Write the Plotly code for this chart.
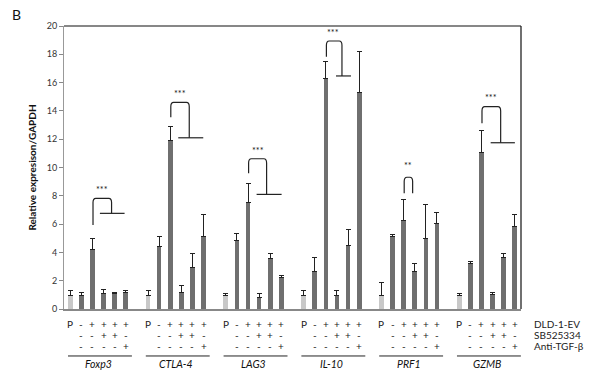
import plotly.graph_objects as go

genes = ["Foxp3", "CTLA-4", "LAG3", "IL-10", "PRF1", "GZMB"]
values = {
    "Foxp3":  [0.95, 0.95, 4.2, 1.1, 1.1, 1.2],
    "CTLA-4": [0.95, 4.4, 11.9, 1.2, 2.9, 5.1],
    "LAG3":   [0.95, 4.85, 7.5, 0.8, 3.6, 2.2],
    "IL-10":  [0.95, 2.65, 16.3, 0.97, 4.5, 15.3],
    "PRF1":   [0.95, 5.15, 6.25, 2.65, 5.0, 6.05],
    "GZMB":   [0.95, 3.2, 11.05, 1.05, 3.65, 5.8],
}
errors = {
    "Foxp3":  [0.39, 0.2, 0.8, 0.29, 0.05, 0.14],
    "CTLA-4": [0.34, 0.7, 1.0, 0.45, 1.0, 1.55],
    "LAG3":   [0.13, 0.5, 1.35, 0.28, 0.3, 0.2],
    "IL-10":  [0.37, 1.0, 1.2, 0.35, 1.15, 2.9],
    "PRF1":   [0.95, 0.13, 1.5, 0.6, 2.4, 0.75],
    "GZMB":   [0.13, 0.15, 1.6, 0.15, 0.25, 0.85],
}
row_dld = ["P", "-", "+", "+", "+", "+"]
row_sb = ["", "-", "-", "+", "+", "-"]
row_anti = ["", "-", "-", "-", "-", "+"]
row_labels = ["DLD-1-EV", "SB525334", "Anti-TGF-β"]
y_ticks = list(range(0, 21, 2))

# significance brackets: (left y bottom, top y, right x offset, right y bottom, hline x0, hline x1, star x, star y, label)
brackets = {
    "Foxp3":  (5.94, 7.82, 3.72, 6.76, 2.67, 4.89, 2.86, 8.45, "***"),
    "CTLA-4": (13.55, 14.6, 3.71, 12.1, 2.72, 4.97, 2.9, 15.2, "***"),
    "LAG3":   (9.59, 10.62, 3.67, 8.1, 2.77, 5.02, 2.9, 11.2, "***"),
    "IL-10":  (17.83, 18.94, 3.45, 16.47, 2.91, 4.26, 2.68, 19.55, "***"),
    "PRF1":   (8.18, 9.31, 2.81, 8.18, None, None, 2.4, 10.15, "**"),
    "GZMB":   (13.12, 14.3, 3.73, 11.75, 2.83, 5.01, 2.9, 14.98, "***"),
}

GROUP = 7
xs, ys, es, cols = [], [], [], []
for g, gene in enumerate(genes):
    for i in range(6):
        xs.append(g * GROUP + i)
        ys.append(values[gene][i])
        es.append(errors[gene][i])
        cols.append("#c8c8c8" if i == 0 else "#6f6f6f")

fig = go.Figure()
fig.add_trace(go.Bar(
    x=xs, y=ys, width=0.42, marker=dict(color=cols, line=dict(width=0)),
    error_y=dict(type="data", symmetric=False, array=es, arrayminus=[0] * len(es),
                 color="#222222", thickness=1, width=2.5),
    showlegend=False, hoverinfo="skip",
))

FONT = "Lato, 'Open Sans', sans-serif"
shapes = []
annotations = []

# plot box: top and right borders
shapes.append(dict(type="line", xref="paper", yref="paper", x0=0, x1=1, y0=1, y1=1,
                   line=dict(color="#111111", width=1.2)))
shapes.append(dict(type="line", xref="paper", yref="paper", x0=1, x1=1, y0=0, y1=1,
                   line=dict(color="#111111", width=1.2)))

rx, ry = 0.25, 0.3
for g, gene in enumerate(genes):
    base = g * GROUP
    yb, yt, xr, yr, h0, h1, sx, sy, lab = brackets[gene]
    xl = base + 2.05
    xR = base + xr
    path = (f"M {xl},{yb} L {xl},{yt - ry} Q {xl},{yt} {xl + rx},{yt} "
            f"L {xR - rx},{yt} Q {xR},{yt} {xR},{yt - ry} L {xR},{yr}")
    shapes.append(dict(type="path", xref="x", yref="y", path=path,
                       line=dict(color="#222222", width=1.2)))
    if h0 is not None:
        shapes.append(dict(type="line", xref="x", yref="y", x0=base + h0, x1=base + h1,
                           y0=yr, y1=yr, line=dict(color="#222222", width=1.2)))
    annotations.append(dict(x=base + sx, y=sy, xref="x", yref="y", text=lab, showarrow=False,
                            font=dict(size=9, color="#111111", family=FONT)))
    # condition rows
    for i in range(6):
        for row, py in ((row_dld, -0.053), (row_sb, -0.091), (row_anti, -0.130)):
            if row[i]:
                annotations.append(dict(x=base + i, y=py, xref="x", yref="paper", text=row[i],
                                        showarrow=False, yanchor="middle",
                                        font=dict(size=10, color="#222222", family=FONT)))
    # underline
    shapes.append(dict(type="line", xref="x", yref="paper", x0=base - 0.2, x1=base + 5.55,
                       y0=-0.166, y1=-0.166, line=dict(color="#222222", width=1)))
    annotations.append(dict(x=base + 2.5, y=-0.194, xref="x", yref="paper",
                            text=f"<i>{gene}</i>", showarrow=False, yanchor="middle",
                            font=dict(size=10.5, color="#111111", family=FONT)))

for lab, py in zip(row_labels, (-0.053, -0.091, -0.130)):
    annotations.append(dict(x=1.024, y=py, xref="paper", yref="paper", text=lab,
                            showarrow=False, xanchor="left", yanchor="middle",
                            font=dict(size=10, color="#222222", family=FONT)))

annotations.append(dict(x=-0.118, y=1.04, xref="paper", yref="paper", text="B",
                        showarrow=False, xanchor="left", yanchor="middle",
                        font=dict(size=14, color="#111111", family=FONT)))

fig.update_layout(
    width=600, height=375,
    margin=dict(l=64, r=79, t=26, b=66),
    plot_bgcolor="white", paper_bgcolor="white",
    shapes=shapes, annotations=annotations,
    bargap=0,
    font=dict(family=FONT),
)
fig.update_xaxes(range=[-0.56, 40.56], showticklabels=False, ticks="", showgrid=False,
                 zeroline=False, showline=True, linecolor="#888888", linewidth=1.5)
fig.update_yaxes(range=[0, 20], tickvals=y_ticks, ticks="outside", ticklen=4,
                 tickcolor="#888888", showgrid=False, zeroline=False, showline=True,
                 linecolor="#999999", linewidth=1,
                 tickfont=dict(size=9, color="#333333", family=FONT),
                 title=dict(text="<b>Relative expresison/GAPDH</b>", standoff=8,
                            font=dict(size=10, color="#111111", family=FONT)))

fig.write_html("out.html",
               config={"displayModeBar": False, "staticPlot": True},
               post_script="document.body.style.margin='0';document.body.style.padding='0';"
                           "document.body.style.overflow='hidden';")
